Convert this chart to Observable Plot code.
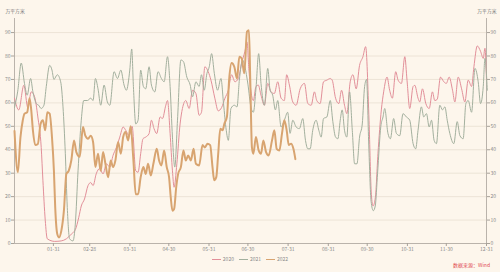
<!DOCTYPE html>
<html><head><meta charset="utf-8">
<script src="https://cdn.jsdelivr.net/npm/d3@7"></script>
<script src="https://cdn.jsdelivr.net/npm/@observablehq/plot@0.6"></script>
<style>
html,body{margin:0;padding:0;background:#fdf6ec;}
body{width:500px;height:272px;overflow:hidden;position:relative;font-family:"Noto Sans CJK SC","Noto Sans",sans-serif;}
#chart{position:absolute;left:0;top:0;}
#legend{position:absolute;left:0;top:256px;width:500px;text-align:center;font-size:5px;line-height:6px;color:#8a8a8a;}
#legend .item{display:inline-block;margin:0 2.5px;}
#legend .sw{display:inline-block;width:9px;height:1px;vertical-align:middle;margin-right:2px;}
#source{position:absolute;right:10px;top:262px;font-size:5px;line-height:6px;color:#e0484e;}
</style></head>
<body><div id="chart"></div><div id="legend"></div><div id="source">数据来源：Wind</div>
<script>
const years = ["2020", "2021", "2022"];
const colors = ["#e28f99", "#a3b09e", "#d8a470"];
const widths = [1, 1, 2];
const unitLabel = "万平方米";
const yTicks = [0, 10, 20, 30, 40, 50, 60, 70, 80, 90];
const xTickLabels = ["01-31","02-28","03-31","04-30","05-31","06-30","07-31","08-31","09-30","10-31","11-30","12-31"];

// day-of-year (0 = Jan 1) and values, 万平方米
const days2020 = [0,3.3,7.2,10.3,12.9,15.5,18,20.6,21.9,23.7,25.3,31,36,40,43.8,47,49.5,51.5,54,56.7,58.8,60.6,63,65.7,68.3,70.9,73.5,76,78.6,81.2,83.8,85.8,88.4,90.7,93.5,95.3,97.3,99.1,101.2,103.8,105.6,107.6,109.7,112.3,114.1,116.7,118,120,121.8,123.1,125.2,127.7,129.5,132.1,134.7,137.3,139.9,142.4,144.2,146.8,149.4,151.5,154.5,157.1,159.7,162.3,164.9,167.4,170,172.6,175.2,177.7,179.3,180.8,182.4,184.2,186.2,188,190.1,192.7,195.3,197.8,200.4,203,205.6,208.1,209.9,212,214.6,217.2,220.3,223.6,226.2,228.8,231.3,233.1,235.7,238.3,240.9,243.5,245,247.6,250.1,252.2,254.5,256.3,258.9,261,263.5,266.1,268.7,270.8,273.4,275.2,276.5,278.3,280.3,282.9,284.7,287.3,289.3,291.4,294,295.8,298.4,301,302.7,304.8,307.4,308.7,311.2,312.5,314.6,317.2,319.8,322.3,324.1,326,328.5,331.1,333,335.2,337.8,339.6,342.2,344.8,347.3,349.9,352.5,354.3,356.9,359.4,361.5,362.8,364];
const vals2020 = [62,57,67.5,58,64.7,62.6,54,41,27,10,2,0.9,1.1,2,4,6,11,16,19,24.7,26,24.7,29.7,32,29.7,34,32.6,37.6,41,45.4,49.7,48.3,46,50,31,30.4,38.3,44.7,45.4,46.9,52.6,49,46.9,54,53.3,59,61,47,31,24,34,51,57.6,61,57.6,65.4,64,54.7,56,75.4,73.3,69.7,62,56.6,58,62,65.4,72,69,70.4,77,82,86,74,64.7,61,67,67.6,63.3,59,68.3,64.7,64,69,62,61,72,67.6,60.4,59,66,68.3,59.7,59,64.7,61,59.7,69,69.7,70.4,69.7,62,59.7,65.4,59,55.4,69,72,66,76,79.7,84,52.6,21,16,19.7,38.3,57,64.7,71,65.4,62,73.3,69.7,68.3,79.7,69.7,57.6,67,67.5,62,60.4,66,59.7,57.6,64.7,61,61.5,71,69,68.3,71,65.4,60.4,71,66,60.4,69.7,67,75.4,84.3,82,79,83.3,70];

const days2021 = [0,2.5,5.2,7.7,9.8,12.4,14.2,16.8,18.6,20.6,22.7,24.5,27.1,28.9,30.4,33,35.6,37.4,39.2,40.7,42.5,45.1,46.9,49,51.5,53.4,56.2,58.8,60.6,62.4,64.4,66.5,69.1,71.6,73.5,76.8,79.4,82,84.5,86.3,88.9,90.4,91.7,93.5,95.3,97.3,99.4,101.2,103.8,105.6,108.2,110.7,113.3,115.4,118,120,121.8,123.6,125.7,128.3,130.3,132.9,135.5,137.3,139.9,142.4,144.2,146.3,148.4,150.2,152,154.1,156.6,159.2,161.2,163.3,164.9,166.9,169.5,171.6,173.4,175.9,177.7,180,182.4,184.2,186.2,188.3,190.1,192.7,195.3,197.1,199.1,201.2,203,205.6,208.1,210.7,212.5,214.6,217.2,219.7,222.3,224.4,226.2,228,230,232.6,234.7,236.5,238.3,240.9,243.5,245.5,247.6,249.4,251.2,252.7,254.5,256.3,258.4,260.5,262.3,264.1,266.1,268.2,270,271.5,273.2,275,276.7,278.2,280,282.5,284.2,285.5,288,289.9,292.4,294.5,297.1,299.6,302.2,304.8,307.4,309.4,311.2,313.8,315.6,317.7,319.8,321.6,323.6,325.4,328,330.1,331.9,333.7,335.7,338.8,341.4,343.5,346,348.1,349.9,352.5,355.1,357.6,359.4,361.5,362.8,364.6];
const vals2021 = [58,65,77,68.3,63.3,70.4,64.7,59.7,59,57.6,59,67,76,74,70,72,69,58.3,38.3,15.4,2,1.1,8.3,31,52.6,61,61,62,61,70.4,66,59,67.6,60.4,59,73.3,70.4,74,67.6,65.4,74,83,67,51,52.6,74,67,66,75.4,67.6,64.7,73.3,70.4,69,79.7,67,45.4,32.6,52.6,78.3,77.6,71,67.6,62.6,69,67,72,65.4,72.6,75.4,81,72.6,65.4,70.4,59.7,48.3,44,57.6,59,58.3,69.7,78.3,75.4,68,58,56,66,81,68.3,59,74.7,65.4,63.3,57,61,49.7,52.6,56,47,52.6,49.7,49,53.3,44,40.4,40.4,48.3,52.6,48.3,45.4,53.3,54,61,52,45.4,44.7,52.6,57,48.3,45.4,64.7,48.3,34,34,45.4,51,67,70,42,18,14,16,30,50,54,57.6,47,44.7,53.3,47,46,55.4,54,52.6,42.6,40.4,48.3,58.3,54,55.4,49.7,52.6,44,42.6,59,57,58.3,52.6,47,42.6,52,46,44.7,59.7,61,56,74.7,69,59.7,67,79,65.4];

const days2022 = [0,2.6,4.6,6.4,7.7,9.8,11.6,12.9,14.2,16,18,20.1,21.9,23.7,25.3,27.1,28.9,30.4,31.4,33,34.3,36.1,38.1,40,41.8,43.8,45.9,47.7,50.3,52.8,54.6,56.7,58.8,60.6,62.4,64.4,66.5,68.3,70.1,72.2,74.2,76,77.8,79.9,82,83.8,85.6,87.6,89.6,91.7,93.5,95.3,97.3,99.4,101.2,103,105.1,107.1,109.7,111.5,113.3,115.4,117.4,119.2,120.5,121.8,123.1,124.7,126.2,128.3,130.3,132.1,133.9,136,138.1,139.9,142.4,145,146.8,148.9,150.9,152.7,154,155.6,157.1,158.7,160.5,161.8,163.8,165.6,167.4,169.5,171.6,173.4,175.2,177.2,179.3,180.8,181.8,183.1,184.2,186.2,188.3,190.1,191.9,194,196,198.6,200.4,202.2,204.3,206.3,208.1,209.9,211.5,213.3,215.1,216.6];
const vals2022 = [48,30.4,45.4,52.6,55.4,56,62,57,48.3,42,42.5,51,52.6,48.3,56,55.4,45.4,31,15.4,4,2.6,5.4,14,29.7,31,35.4,44,39,37,49.7,46,44.7,46,43.3,32.6,38.3,31,39,34,28.3,35.4,32.6,35.4,43.3,38.3,45.4,47.6,44,50,35.4,21,21,28.3,32.6,29.7,34,29,34,40.4,35.4,33.3,39.7,32.6,28.3,19.7,14,14.7,24,29.7,32.6,39.7,35.4,37.6,35.4,40.4,34,33.3,42,41,42.6,42,32.6,27,28.3,38.3,49,48.3,51,54,70.4,77,75.4,70.4,79.7,79,72.6,90.4,91,70,41,38.3,45.4,39.7,38.3,44,39,37.6,44,48.3,40.4,39.7,47,52.6,48.3,42,42.6,40.4,36];

const base = Date.UTC(2021, 0, 1);
const toDate = d => new Date(base + d * 864e5);
function rows(days, vals, year) { return days.map((d, i) => ({date: toDate(d), value: vals[i], year})); }
const series = [rows(days2020, vals2020, years[0]), rows(days2021, vals2021, years[1]), rows(days2022, vals2022, years[2])];

const xStart = toDate(0), xEnd = new Date(Date.UTC(2021, 11, 31));
const parseTick = d3.utcParse("%Y-%m-%d");
const xTicks = xTickLabels.map(s => parseTick("2021-" + s));
const axisColor = "#a8a29a";
const font = "'Noto Sans CJK SC','Noto Sans',sans-serif";

const chart = Plot.plot({
  width: 500, height: 253,
  marginLeft: 14, marginRight: 14, marginTop: 18, marginBottom: 10,
  style: {background: "transparent", fontSize: "5px", fontFamily: font, color: "#8a8a8a", overflow: "visible"},
  x: {type: "utc", domain: [xStart, xEnd]},
  y: {domain: [0, 96]},
  marks: [
    Plot.gridY(yTicks.filter(t => t > 0), {stroke: "#e9e0d2", strokeOpacity: 1, strokeWidth: 0.8}),
    Plot.ruleX([xStart, xEnd], {stroke: axisColor, strokeWidth: 0.8}),
    Plot.ruleY([0], {stroke: axisColor, strokeWidth: 0.8}),
    Plot.axisY(yTicks, {anchor: "left", tickSize: 3, tickPadding: 1, stroke: axisColor, label: null}),
    Plot.axisY(yTicks, {anchor: "right", tickSize: 3, tickPadding: 1, stroke: axisColor, label: null}),
    Plot.axisX(xTicks, {anchor: "bottom", tickSize: 3, tickPadding: 1, stroke: axisColor, tickFormat: d3.utcFormat("%m-%d"), label: null}),
    ...series.map((s, i) => Plot.line(s, {x: "date", y: "value", stroke: colors[i], strokeWidth: widths[i], curve: "monotone-x"})),
    Plot.text([unitLabel], {frameAnchor: "top-left", dx: -9, dy: -9, fill: "#777", fontSize: 4.8}),
    Plot.text([unitLabel], {frameAnchor: "top-right", dx: 10, dy: -9, fill: "#777", fontSize: 4.8})
  ]
});
document.getElementById("chart").appendChild(chart);

const legend = document.getElementById("legend");
years.forEach((y, i) => {
  const item = document.createElement("span");
  item.className = "item";
  const sw = document.createElement("span");
  sw.className = "sw";
  sw.style.background = colors[i];
  item.appendChild(sw);
  item.appendChild(document.createTextNode(y));
  legend.appendChild(item);
});
</script>
</body></html>
